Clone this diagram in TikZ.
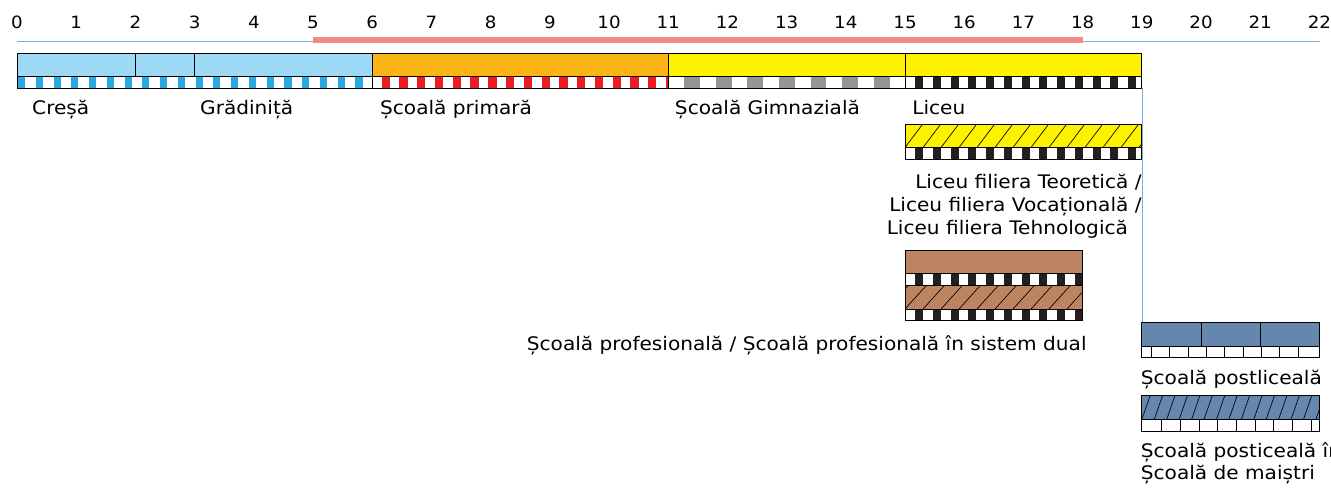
\documentclass[tikz,border=0pt]{standalone}
\usepackage{fontspec}
\setmainfont{DejaVu Sans}[FakeStretch=1.077]
\usepackage{xcolor}
\usetikzlibrary{positioning}
\definecolor{kinder}{HTML}{9DD9F4}
\definecolor{kinderdot}{HTML}{29A9E1}
\definecolor{primar}{HTML}{FBB416}
\definecolor{primardot}{HTML}{ED1C24}
\definecolor{liceu}{HTML}{FFF200}
\definecolor{gimdot}{HTML}{939598}
\definecolor{dark}{HTML}{231F20}
\definecolor{prof}{HTML}{BC8460}
\definecolor{postlic}{HTML}{6587AE}
\definecolor{oblig}{HTML}{F28A86}
\definecolor{axisblue}{HTML}{7EADDF}
% strip of squares under a bar: x0, x1, ytop, colour, first, period, width
\newcommand{\dotstrip}[7]{%
  \fill[white] (#1,#3) rectangle (#2,#3+11.8);
  \begin{scope}
    \clip (#1,#3) rectangle (#2,#3+11.8);
    \foreach \k in {0,...,20}{ \fill[#4] (#5+\k*#6,#3) rectangle ++(#7,11.8); }
  \end{scope}
  \draw[edge] (#1,#3) rectangle (#2,#3+11.8);
}
% hatched bar: x0, x1, ytop, ybot, colour, step, slant
\newcommand{\hatchbar}[7]{%
  \fill[#5] (#1,#3) rectangle (#2,#4);
  \begin{scope}
    \clip (#1,#3) rectangle (#2,#4);
    \foreach \k in {-2,...,20}{ \draw[hatch] (#1+\k*#6,#4) -- ++(#7,#3-#4); }
  \end{scope}
  \draw[bar] (#1,#3) rectangle (#2,#4);
}
% white cells under the postliceal bars: ytop, first divider, step
\newcommand{\cellstrip}[3]{%
  \draw[edge,fill=white] (19,#1) rectangle (22,#1+11.7);
  \foreach \k in {0,...,8}{ \draw[edge] (#2+\k*#3,#1) -- ++(0,11.7); }
}

\begin{document}
\begin{tikzpicture}[x=44.4pt,y=-0.75pt,
    bar/.style={draw=black,line width=0.7pt},
    edge/.style={draw=black,line width=0.7pt},
    hatch/.style={draw=black,line width=0.5pt},
    lbl/.style={font=\fontsize{14}{17}\selectfont,inner sep=0pt},
    num/.style={font=\fontsize{12.7}{15}\selectfont,inner sep=0pt,anchor=base}]
  \useasboundingbox (-0.2872,0) rectangle (22.1959,487);
  \clip (-0.2872,0) rectangle (22.1959,487);
  % age axis
  \foreach \k in {0,...,22}{
    \node[num] (age\k) at (\k,28.3) {\k};
  }
  \draw[axisblue,line width=1.1pt] (0,41.7) -- (22.01,41.7);
  \draw[oblig,line width=5pt] (5,40) -- (18,40);
  % link liceu - postliceal
  \coordinate (linktop) at (19.015,88.3);
  \coordinate (linkbot) at (19.015,322.3);
  \draw[axisblue,line width=0.9pt] (linktop) -- (linkbot);
  % main row
  \draw[bar,fill=kinder] (0,53.3) rectangle (2,76.7);
  \draw[bar,fill=kinder] (2,53.3) rectangle (3,76.7);
  \draw[bar,fill=kinder] (3,53.3) rectangle (6,76.7);
  \draw[bar,fill=primar] (6,53.3) rectangle (11,76.7);
  \draw[bar,fill=liceu] (11,53.3) rectangle (15,76.7);
  \draw[bar,fill=liceu] (15,53.3) rectangle (19,76.7);
  \dotstrip{0}{6}{76.7}{kinderdot}{0.017}{0.3}{0.12}
  \dotstrip{6}{11}{76.7}{primardot}{6.16}{0.3}{0.14}
  \dotstrip{11}{15}{76.7}{gimdot}{11.27}{0.534}{0.267}
  \dotstrip{15}{19}{76.7}{dark}{15.17}{0.3}{0.135}
  \node[lbl,anchor=base west] (cresa) at (0.253,114) {Creșă};
  \node[lbl,anchor=base west] (gradinita) at (3.09,114) {Grădiniță};
  \node[lbl,anchor=base west] (primara) at (6.13,114) {Școală primară};
  \node[lbl,anchor=base west] (gimnaziala) at (11.11,114) {Școală Gimnazială};
  \node[lbl,anchor=base west] (liceu) at (15.12,114) {Liceu};
  % liceu filiere
  \hatchbar{15}{19}{124}{147.5}{liceu}{0.304}{0.3}
  \dotstrip{15}{19}{147.5}{dark}{15.17}{0.3}{0.135}
  \node[lbl,anchor=base east] (teoretica) at (19,188.3) {Liceu filiera Teoretică /};
  \node[lbl,anchor=base east] (vocationala) at (19,211.7) {Liceu filiera Vocațională /};
  \node[lbl,anchor=base east] (tehnologica) at (18.77,234) {Liceu filiera Tehnologică};
  % scoala profesionala
  \draw[bar,fill=prof] (15,250) rectangle (18,273.5);
  \dotstrip{15}{18}{273.5}{dark}{15.17}{0.3}{0.135}
  \hatchbar{15}{18}{285.5}{309}{prof}{0.304}{0.36}
  \dotstrip{15}{18}{309}{dark}{15.17}{0.3}{0.135}
  \node[lbl,anchor=base east] (profesionala) at (18.07,350)
    {Școală profesională / Școală profesională în sistem dual};
  % postliceal
  \draw[bar,fill=postlic] (19,322.3) rectangle (20,346);
  \draw[bar,fill=postlic] (20,322.3) rectangle (21,346);
  \draw[bar,fill=postlic] (21,322.3) rectangle (22,346);
  \cellstrip{346}{19.166}{0.309}
  \node[lbl,anchor=base west] (postliceala) at (18.98,384) {Școală postliceală};
  \hatchbar{19}{22}{395.7}{419.5}{postlic}{0.21}{0.14}
  \cellstrip{419.5}{19.336}{0.316}
  \node[lbl,anchor=base west] (postdual) at (18.98,457.3) {Școală posticeală în};
  \node[lbl,anchor=base west] (maistri) at (18.98,479.5) {Școală de maiștri};
\end{tikzpicture}
\end{document}
